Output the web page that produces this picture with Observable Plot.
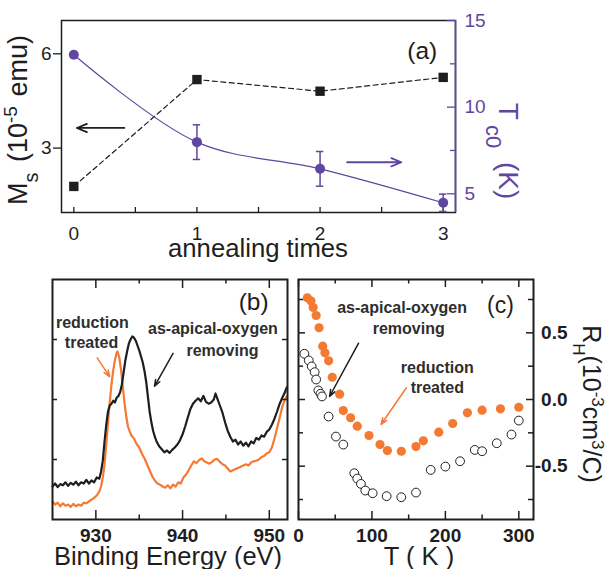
<!DOCTYPE html>
<html><head><meta charset="utf-8">
<script src="https://cdn.jsdelivr.net/npm/d3@7"></script>
<script src="https://cdn.jsdelivr.net/npm/@observablehq/plot@0.6"></script>
<style>
html,body{margin:0;padding:0;background:#fff;}
#fig{position:relative;width:613px;height:569px;overflow:hidden;background:#fff;}
#fig svg{position:absolute;left:0;top:0;background:transparent !important;}
</style></head><body><div id="fig"></div>
<script>
// ---------- data ----------
const annealingTimes = [0, 1, 2, 3];
const msValues = [1.78, 5.18, 4.81, 5.25];          // 10^-5 emu
const tc0Values = [13.02, 7.98, 6.44, 4.48];        // K
const tc0Errors = [0, 1.0, 1.0, 0.5];

const xpsAsApical = [ // [binding energy eV, intensity a.u.]
 [925.0,0.55],[925.3,0.60],[925.6,0.54],[925.9,0.59],[926.2,0.57],[926.5,0.62],[926.8,0.56],[927.1,0.61],
 [927.4,0.58],[927.7,0.63],[928.0,0.57],[928.3,0.62],[928.6,0.60],[928.9,0.66],[929.2,0.60],[929.5,0.65],
 [929.8,0.62],[930.1,0.70],[930.4,0.68],[930.6,0.80],[930.8,0.98],[931.0,1.30],[931.2,1.58],[931.4,1.80],
 [931.6,1.90],[931.8,1.93],[932.0,1.98],[932.2,1.95],[932.4,2.03],[932.6,2.06],[932.8,2.12],[933.0,2.25],
 [933.2,2.45],[933.4,2.65],[933.6,2.80],[933.8,2.93],[934.0,3.00],[934.2,3.05],[934.4,3.03],[934.6,2.98],
 [934.8,2.90],[935.0,2.82],[935.2,2.72],[935.4,2.62],[935.6,2.48],[935.8,2.30],[936.0,2.05],[936.2,1.80],
 [936.4,1.62],[936.6,1.48],[936.8,1.38],[937.0,1.30],[937.3,1.22],[937.6,1.17],[937.9,1.12],[938.2,1.15],
 [938.5,1.11],[938.8,1.16],[939.1,1.20],[939.4,1.25],[939.7,1.32],[940.0,1.42],[940.3,1.55],[940.6,1.70],
 [940.9,1.84],[941.2,1.93],[941.5,1.98],[941.8,2.02],[942.1,1.97],[942.4,2.06],[942.7,1.96],[943.0,1.93],
 [943.3,1.95],[943.6,2.00],[943.8,2.10],[944.0,2.02],[944.3,1.90],[944.6,1.78],[944.9,1.62],[945.2,1.48],
 [945.5,1.38],[945.8,1.30],[946.1,1.33],[946.4,1.25],[946.7,1.30],[947.0,1.23],[947.3,1.28],[947.6,1.22],
 [947.9,1.30],[948.2,1.27],[948.5,1.36],[948.8,1.33],[949.1,1.40],[949.4,1.38],[949.7,1.46],[950.0,1.50],
 [950.3,1.58],[950.6,1.68],[950.9,1.80],[951.2,1.93],[951.5,2.03],[951.8,2.12],[952.0,2.20]
];
const xpsReduced = [
 [925.0,0.30],[925.3,0.25],[925.6,0.28],[925.9,0.22],[926.2,0.27],[926.5,0.23],[926.8,0.25],[927.1,0.21],
 [927.4,0.26],[927.7,0.22],[928.0,0.25],[928.3,0.23],[928.6,0.28],[928.9,0.27],[929.2,0.30],[929.5,0.33],
 [929.8,0.36],[930.1,0.40],[930.4,0.47],[930.6,0.55],[930.8,0.70],[931.0,0.92],[931.2,1.25],[931.4,1.62],
 [931.6,1.95],[931.8,2.25],[932.0,2.48],[932.2,2.66],[932.4,2.78],[932.5,2.80],[932.7,2.70],[932.9,2.50],
 [933.1,2.22],[933.3,1.95],[933.5,1.72],[933.7,1.55],[933.9,1.47],[934.1,1.40],[934.4,1.35],[934.7,1.26],
 [935.0,1.20],[935.3,1.10],[935.6,1.02],[935.9,0.92],[936.2,0.82],[936.5,0.72],[936.8,0.65],[937.1,0.60],
 [937.4,0.58],[937.7,0.55],[938.0,0.53],[938.3,0.57],[938.6,0.52],[938.9,0.58],[939.2,0.55],[939.5,0.62],
 [939.8,0.60],[940.1,0.70],[940.4,0.75],[940.7,0.82],[941.0,0.90],[941.3,0.97],[941.6,0.94],[941.9,0.99],
 [942.2,1.02],[942.5,0.97],[942.8,0.95],[943.1,0.93],[943.4,0.96],[943.7,1.00],[944.0,1.01],[944.3,0.96],
 [944.6,0.92],[944.9,0.90],[945.2,0.85],[945.5,0.80],[945.8,0.82],[946.1,0.84],[946.4,0.86],[946.7,0.88],
 [947.0,0.90],[947.3,0.92],[947.6,0.90],[947.9,0.95],[948.2,0.97],[948.5,0.98],[948.8,1.00],[949.1,1.04],
 [949.4,1.06],[949.7,1.10],[950.0,1.12],[950.3,1.20],[950.6,1.35],[950.9,1.52],[951.2,1.70],[951.5,1.88],
 [951.8,2.00],[952.0,2.05]
];

const hallAsT = [8,14,18,22,24,27,30,32,41,51,61,76,80,85,91,101,120,140,160,180,200,220,240,250,270,290,300];
const hallAsR = [0.343,0.293,0.248,0.205,0.15,0.068,0.043,0.023,-0.128,-0.278,-0.338,-0.553,-0.593,-0.633,-0.683,-0.703,-0.725,-0.733,-0.698,-0.528,-0.503,-0.463,-0.378,-0.388,-0.328,-0.263,-0.158];
const hallRedT = [12,17,20,24,28,33,36,41,46,56,61,71,80,96,111,121,140,160,170,191,210,230,250,275,300];
const hallRedR = [0.763,0.738,0.69,0.63,0.538,0.40,0.35,0.29,0.167,0.04,-0.083,-0.137,-0.2,-0.27,-0.338,-0.383,-0.388,-0.353,-0.31,-0.245,-0.18,-0.1,-0.08,-0.07,-0.058];

const annealTicks = [0, 1, 2, 3];
const msTicks = [3, 6];
const tcTicks = [5, 10, 15];
const tcMinorTicks = [7.5, 12.5];
const beTicks = [930, 940, 950];
const beMinorTicks = [935, 945];
const tTicks = [0, 100, 200, 300];
const tMinorTicks = [50, 150, 250];
const rhTicks = [-0.5, 0, 0.5];
const rhMinorTicks = [-0.75, -0.25, 0.25, 0.75];

// ---------- styling ----------
const W = 613, H = 569;
const FONT = '"Liberation Sans", Arial, Helvetica, sans-serif';
const INK = "#1e1e1e", ANN = "#2e2e2e", ORANGE = "#f47a33", PURPLE = "#5f46a0";

const msRows = annealingTimes.map((t, i) => ({t, v: msValues[i]}));
const tcRows = annealingTimes.map((t, i) => ({t, v: tc0Values[i], e: tc0Errors[i]}));
const tcErr = tcRows.filter(d => d.e > 0);
const asRows = xpsAsApical.map(([e, v]) => ({e, v}));
const redRows = xpsReduced.map(([e, v]) => ({e, v}));
const hallAs = hallAsT.map((T, i) => ({T, R: hallAsR[i]}));
const hallRed = hallRedT.map((T, i) => ({T, R: hallRedR[i]}));
const intFmt = d => String(d);

function panel(opts) {
  return Plot.plot({
    width: W, height: H,
    style: {background: "transparent", fontFamily: FONT, fontSize: "19px", color: INK},
    ...opts
  });
}

// panel (a) geometry: frame 61..455 x 20..212
const aW = 394, aH = 192;
const a1 = panel({
  marginLeft: 61, marginRight: W - 455, marginTop: 20, marginBottom: H - 212,
  x: {domain: [-0.1, 3.1]}, y: {domain: [0.95, 7.06]},
  marks: [
    Plot.frame({stroke: INK, strokeWidth: 1.5}),
    Plot.tickX(d3.range(0, 3.01, 0.5), {x: d => d, insetTop: aH - 5, stroke: INK, strokeWidth: 1.3}),
    Plot.axisX(annealTicks, {tickSize: 0, tickPadding: 14, label: null, fontSize: 19, tickFormat: intFmt}),
    Plot.axisY(msTicks, {tickSize: 8, tickPadding: 2, label: null, fontSize: 19, strokeWidth: 1.3, tickFormat: intFmt}),
    Plot.line(msRows, {x: "t", y: "v", stroke: INK, strokeWidth: 1.2, strokeDasharray: "5,3.5"}),
    Plot.dot(msRows, {x: "t", y: "v", symbol: "square", r: 5.3, fill: INK}),
    Plot.arrow([{x1: 0.41, x2: 0.025, y: 3.64}], {x1: "x1", x2: "x2", y1: "y", y2: "y", stroke: INK, strokeWidth: 1.8, headLength: 9, headAngle: 45}),
    Plot.text(["(a)"], {x: 2.83, y: 6.1, fontSize: 24.5, fill: INK})
  ]
});
const a2 = panel({
  marginLeft: 61, marginRight: W - 455, marginTop: 20, marginBottom: H - 212,
  x: {domain: [-0.1, 3.1], axis: null}, y: {domain: [3.92, 15]},
  marks: [
    Plot.ruleX([3.1], {stroke: PURPLE, strokeWidth: 1.6}),
    Plot.tickY(tcTicks, {y: d => d, insetLeft: aW - 8, stroke: PURPLE, strokeWidth: 1.3}),
    Plot.tickY(tcMinorTicks, {y: d => d, insetLeft: aW - 5, stroke: PURPLE, strokeWidth: 1.3}),
    Plot.axisY(tcTicks, {anchor: "right", tickSize: 0, tickPadding: 9, label: null, fontSize: 19, fill: PURPLE, tickFormat: intFmt}),
    Plot.line(tcRows, {x: "t", y: "v", curve: "catmull-rom", stroke: PURPLE, strokeWidth: 1.2}),
    Plot.ruleX(tcErr, {x: "t", y1: d => d.v - d.e, y2: d => d.v + d.e, stroke: PURPLE, strokeWidth: 1.5}),
    Plot.ruleY(tcErr, {y: d => d.v + d.e, x1: d => d.t - 0.03, x2: d => d.t + 0.03, stroke: PURPLE, strokeWidth: 1.5}),
    Plot.ruleY(tcErr, {y: d => d.v - d.e, x1: d => d.t - 0.03, x2: d => d.t + 0.03, stroke: PURPLE, strokeWidth: 1.5}),
    Plot.dot(tcRows, {x: "t", y: "v", r: 5, fill: PURPLE}),
    Plot.arrow([{x1: 2.22, x2: 2.66, y: 6.82}], {x1: "x1", x2: "x2", y1: "y", y2: "y", stroke: PURPLE, strokeWidth: 1.8, headLength: 9, headAngle: 45})
  ]
});

// panel (b): frame 52..287 x 279..519
const bW = 235, bH = 240;
const b = panel({
  marginLeft: 52, marginRight: W - 287, marginTop: 279, marginBottom: H - 519,
  x: {domain: [925, 952.1]}, y: {domain: [0, 4], axis: null},
  marks: [
    Plot.line(redRows, {x: "e", y: "v", stroke: ORANGE, strokeWidth: 2.2}),
    Plot.line(asRows, {x: "e", y: "v", stroke: INK, strokeWidth: 2.2}),
    Plot.frame({stroke: INK, strokeWidth: 2}),
    Plot.tickX(beTicks, {x: d => d, insetTop: bH - 9, stroke: INK, strokeWidth: 1.5}),
    Plot.tickX(beTicks, {x: d => d, insetBottom: bH - 9, stroke: INK, strokeWidth: 1.5}),
    Plot.tickX(beMinorTicks, {x: d => d, insetTop: bH - 4.5, stroke: INK, strokeWidth: 1.5}),
    Plot.tickX(beMinorTicks, {x: d => d, insetBottom: bH - 4.5, stroke: INK, strokeWidth: 1.5}),
    Plot.tickY([1, 2, 3], {y: d => d, insetRight: bW - 5, stroke: INK, strokeWidth: 1.5}),
    Plot.tickY([1, 2, 3], {y: d => d, insetLeft: bW - 5, stroke: INK, strokeWidth: 1.5}),
    Plot.axisX(beTicks, {tickSize: 0, tickPadding: 9, label: null, fontSize: 19, fontWeight: "bold", tickFormat: intFmt}),
    Plot.text(["(b)"], {x: 948.2, y: 3.62, fontSize: 24.5, fill: INK}),
    Plot.text(["reduction"], {x: 929.6, y: 3.275, fontSize: 16, fontWeight: "bold", fill: ANN}),
    Plot.text(["treated"], {x: 929.5, y: 2.94, fontSize: 16, fontWeight: "bold", fill: ANN}),
    Plot.text(["as-apical-oxygen"], {x: 943.5, y: 3.175, fontSize: 16, fontWeight: "bold", fill: ANN}),
    Plot.text(["removing"], {x: 944.6, y: 2.81, fontSize: 16, fontWeight: "bold", fill: ANN}),
    Plot.arrow([{x1: 938.9, y1: 2.77, x2: 936.76, y2: 2.22}], {x1: "x1", y1: "y1", x2: "x2", y2: "y2", stroke: INK, strokeWidth: 1.5, headLength: 7, headAngle: 40}),
    Plot.arrow([{x1: 930.15, y1: 2.695, x2: 931.6, y2: 2.38}], {x1: "x1", y1: "y1", x2: "x2", y2: "y2", stroke: ORANGE, strokeWidth: 1.5, headLength: 7, headAngle: 40})
  ]
});

// panel (c): frame 298..533 x 279..519
const cW = 235, cH = 240;
const c = panel({
  marginLeft: 298, marginRight: W - 533, marginTop: 279, marginBottom: H - 519,
  x: {domain: [0, 320]}, y: {domain: [-0.9, 0.9]},
  marks: [
    Plot.frame({stroke: INK, strokeWidth: 2}),
    Plot.tickX(tTicks, {x: d => d, insetTop: cH - 8, stroke: INK, strokeWidth: 1.5}),
    Plot.tickX(tTicks, {x: d => d, insetBottom: cH - 8, stroke: INK, strokeWidth: 1.5}),
    Plot.tickX(tMinorTicks, {x: d => d, insetTop: cH - 4.5, stroke: INK, strokeWidth: 1.5}),
    Plot.tickX(tMinorTicks, {x: d => d, insetBottom: cH - 4.5, stroke: INK, strokeWidth: 1.5}),
    Plot.tickY(rhTicks, {y: d => d, insetRight: cW - 7, stroke: INK, strokeWidth: 1.5}),
    Plot.tickY(rhTicks, {y: d => d, insetLeft: cW - 7, stroke: INK, strokeWidth: 1.5}),
    Plot.tickY(rhMinorTicks, {y: d => d, insetRight: cW - 5, stroke: INK, strokeWidth: 1.5}),
    Plot.tickY(rhMinorTicks, {y: d => d, insetLeft: cW - 5, stroke: INK, strokeWidth: 1.5}),
    Plot.axisX(tTicks, {tickSize: 0, tickPadding: 9, label: null, fontSize: 19, fontWeight: "bold", tickFormat: intFmt}),
    Plot.axisY(rhTicks, {anchor: "right", tickSize: 0, tickPadding: 34, textAnchor: "end", label: null, fontSize: 19, fontWeight: "bold", tickFormat: d => d.toFixed(1)}),
    Plot.dot(hallRed, {x: "T", y: "R", r: 4.6, fill: ORANGE}),
    Plot.dot(hallAs, {x: "T", y: "R", r: 4.4, fill: "white", stroke: INK, strokeWidth: 1}),
    Plot.text(["(c)"], {x: 275, y: 0.705, fontSize: 23, fill: INK}),
    Plot.text(["as-apical-oxygen"], {x: 141, y: 0.69, fontSize: 16, fontWeight: "bold", fill: ANN}),
    Plot.text(["removing"], {x: 150, y: 0.53, fontSize: 16, fontWeight: "bold", fill: ANN}),
    Plot.text(["reduction"], {x: 189, y: 0.24, fontSize: 16, fontWeight: "bold", fill: ANN}),
    Plot.text(["treated"], {x: 189, y: 0.086, fontSize: 16, fontWeight: "bold", fill: ANN}),
    Plot.arrow([{x1: 81.8, y1: 0.422, x2: 42.3, y2: 0.0225}], {x1: "x1", y1: "y1", x2: "x2", y2: "y2", stroke: INK, strokeWidth: 1.5, headLength: 7, headAngle: 40}),
    Plot.arrow([{x1: 146.9, y1: 0.088, x2: 112.4, y2: -0.1875}], {x1: "x1", y1: "y1", x2: "x2", y2: "y2", stroke: ORANGE, strokeWidth: 1.5, headLength: 7, headAngle: 40})
  ]
});

// ---------- axis titles (rich text) ----------
const ov = d3.create("svg").attr("width", W).attr("height", H).attr("viewBox", `0 0 ${W} ${H}`)
  .style("font-family", FONT);
function label(x, y, rot, size, fill, parts) {
  const t = ov.append("text").attr("transform", `translate(${x},${y}) rotate(${rot})`)
    .attr("text-anchor", "middle").attr("font-size", size).attr("fill", fill);
  for (const p of parts) {
    const s = t.append("tspan").text(p.t);
    if (p.shift) s.attr("baseline-shift", p.shift);
    if (p.size) s.attr("font-size", p.size);
    if (p.dx) s.attr("dx", p.dx);
  }
}
label(27, 120, -90, 27, INK, [
  {t: "M"}, {t: "s", shift: "sub", size: 20}, {t: " (10", dx: 3}, {t: "-5", shift: "super", size: 19}, {t: " emu)", dx: 2}
]);
label(499, 151, 90, 28, PURPLE, [
  {t: "T"}, {t: "c0", shift: "sub", size: 22, dx: 5}, {t: " (K)", dx: 6}
]);
label(583, 404, 90, 25, INK, [
  {t: "R"}, {t: "H", shift: "sub", size: 17}, {t: "(10"}, {t: "-3", shift: "super", size: 17}, {t: "cm"}, {t: "3", shift: "super", size: 17}, {t: "/C)"}
]);
label(258, 257, 0, 25.7, INK, [{t: "annealing times"}]);
label(168, 565, 0, 25.5, INK, [{t: "Binding Energy (eV)"}]);
label(419, 565, 0, 25.5, INK, [{t: "T ( K )"}]);

const fig = document.getElementById("fig");
for (const el of [a1, a2, b, c, ov.node()]) fig.appendChild(el);
</script>
</body></html>
